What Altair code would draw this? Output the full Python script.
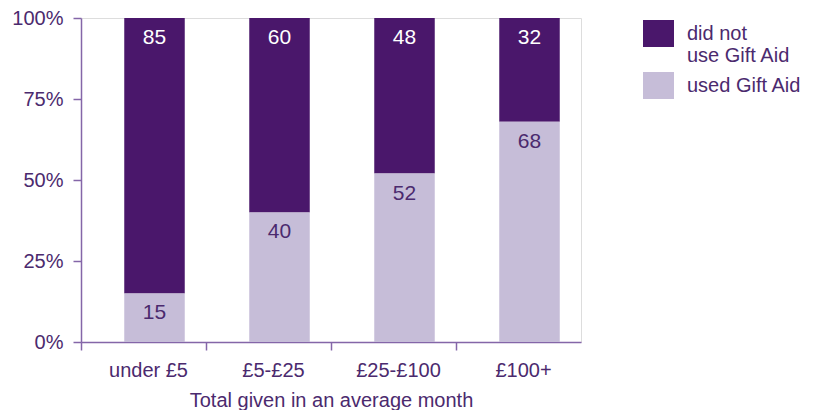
import altair as alt
import pandas as pd

categories = ["under £5", "£5-£25", "£25-£100", "£100+"]
did_not_use = [85, 60, 48, 32]
used = [15, 40, 52, 68]
series_names = ["did not use Gift Aid", "used Gift Aid"]
colors = ["#4a176b", "#c6bdd8"]
label_colors = ["#ffffff", "#4b2a6e"]

rows = []
for i, c in enumerate(categories):
    rows.append({"cat": c, "series": series_names[0], "value": did_not_use[i], "ord": 1})
    rows.append({"cat": c, "series": series_names[1], "value": used[i], "ord": 0})
df = pd.DataFrame(rows)

FONT = "Liberation Sans"
TXT = "#4b2a6e"
AXC = "#8466a8"

base = alt.Chart(df).transform_stack(
    stack="value", groupby=["cat"], as_=["y0", "y1"],
    sort=[alt.SortField("ord", order="ascending")]
)

x = alt.X("cat:N", sort=categories, title="Total given in an average month",
          scale=alt.Scale(paddingInner=0, paddingOuter=0),
          axis=alt.Axis(bandPosition=0, labelAngle=0, domainColor=AXC, tickColor=AXC,
                        tickSize=8, labelFontSize=20, labelColor=TXT, labelFont=FONT,
                        labelPadding=10, labelOffset=5, titleFontSize=20, titleFont=FONT,
                        titleColor=TXT, titleFontWeight="normal", titlePadding=10,
                        domainWidth=1.5, tickWidth=1.5))

bars = base.mark_bar(width=alt.RelativeBandSize(0.484), xOffset=11).encode(
    x=x,
    y=alt.Y("y0:Q", scale=alt.Scale(domain=[0, 100]), title=None,
            axis=alt.Axis(values=[0, 25, 50, 75, 100], labelExpr="datum.value + '%'",
                          grid=False, domainColor=AXC, tickColor=AXC, tickSize=8,
                          labelFontSize=20, labelColor=TXT, labelFont=FONT, labelPadding=10,
                          domainWidth=1.5, tickWidth=1.5)),
    y2="y1:Q",
    color=alt.Color("series:N", scale=alt.Scale(domain=series_names, range=colors),
                    title=None,
                    legend=alt.Legend(orient="right", offset=62, padding=0,
                                      symbolType="M-1,-0.87H1V0.87H-1Z", symbolSize=961,
                                      symbolOpacity=1, symbolStrokeWidth=0,
                                      labelFontSize=20, labelFont=FONT, labelColor=TXT,
                                      labelOffset=13, labelLimit=300, rowPadding=4,
                                      labelExpr="datum.label == 'did not use Gift Aid' ? ['did not', 'use Gift Aid'] : datum.label")),
)

texts = base.mark_text(dy=20, fontSize=21, font=FONT, baseline="middle", xOffset=11).encode(
    x=alt.X("cat:N", sort=categories),
    y=alt.Y("y1:Q"),
    text=alt.Text("value:Q"),
    color=alt.Color("series:N", scale=alt.Scale(domain=series_names, range=label_colors), legend=None),
)

chart = alt.layer(bars, texts).resolve_scale(color="independent").properties(
    width=500, height=324,
    padding={"left": 3, "top": 0, "right": 5, "bottom": 0},
).configure_view(stroke=None).configure(background="white")

chart.save("out.html", embed_options={"renderer": "svg", "actions": False})
